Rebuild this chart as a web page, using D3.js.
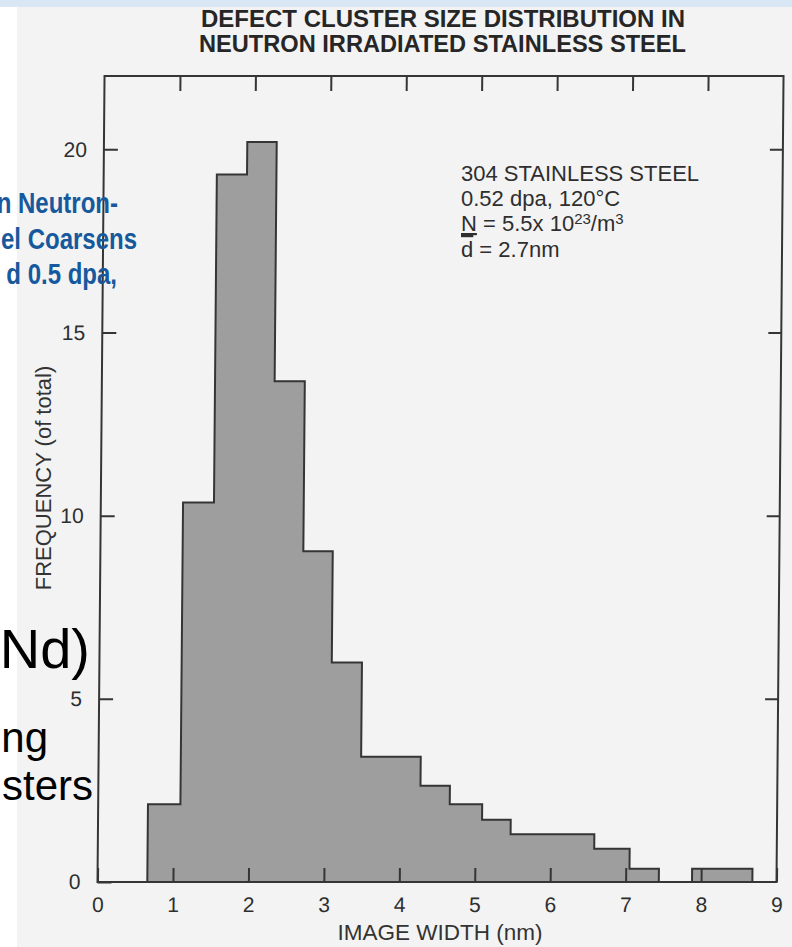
<!DOCTYPE html>
<html>
<head>
<meta charset="utf-8">
<script src="https://cdn.jsdelivr.net/npm/d3@7"></script>
<style>
  html, body { margin: 0; padding: 0; background: #ffffff; }
  svg { display: block; }
</style>
</head>
<body>
<div id="chart"></div>
<script>
// ---- data ----
const binStart  = [0.66, 1.09, 1.50, 1.90, 2.29, 2.69, 3.08, 3.48, 4.27, 4.66, 5.09, 5.47, 6.58, 7.05, 7.88, 7.97];
const binEnd    = [1.09, 1.50, 1.90, 2.29, 2.69, 3.08, 3.48, 4.27, 4.66, 5.09, 5.47, 6.58, 7.05, 7.44, 7.97, 8.68];
const frequency = [2.12, 10.36, 19.31, 20.20, 13.67, 9.03, 5.99, 3.42, 2.63, 2.12, 1.70, 1.30, 0.91, 0.36, 0.36, 0.36];
const xTicks = [0, 1, 2, 3, 4, 5, 6, 7, 8, 9];
const yTicks = [0, 5, 10, 15, 20];
const titleLines = ["DEFECT CLUSTER SIZE DISTRIBUTION IN", "NEUTRON IRRADIATED STAINLESS STEEL"];
const xLabel = "IMAGE WIDTH (nm)";
const yLabel = "FREQUENCY (of total)";
const slideBlueLines = ["n Neutron-", "el Coarsens", "d 0.5 dpa,"];
const slideBlackLines = ["Nd)", "ng", "sters"];

const W = 792, H = 947;
const svg = d3.select("#chart").append("svg").attr("width", W).attr("height", H);

// background (scan on a slide)
svg.append("rect").attr("width", W).attr("height", H).attr("fill", "#ffffff");
svg.append("rect").attr("x", 0).attr("y", 0).attr("width", W).attr("height", 7).attr("fill", "#d9e7f4");
svg.append("rect").attr("x", 17).attr("y", 7).attr("width", W - 17).attr("height", H - 7).attr("fill", "#f3f3f3");

const x = d3.scaleLinear().domain([0, 9]).range([97.5, 776.5]);
const y = d3.scaleLinear().domain([0, 22]).range([882, 76]);

const ink = "#353535";
const sans = "'Liberation Sans', Arial, Helvetica, sans-serif";

// the scan is slightly sheared: verticals lean right toward the top
const g = svg.append("g").attr("transform", "translate(0,882) skewX(-0.5) translate(0,-882)");

const bins = binStart.map((s, i) => ({ x0: s, x1: binEnd[i], f: frequency[i] }));

// step outline of the histogram (fill + outline)
const pts = [];
bins.forEach((d, i) => {
  const prev = bins[i - 1];
  if (!prev || Math.abs(prev.x1 - d.x0) > 1e-6) pts.push([d.x0, 0]);
  pts.push([d.x0, d.f]);
  pts.push([d.x1, d.f]);
  const next = bins[i + 1];
  if (!next || Math.abs(next.x0 - d.x1) > 1e-6) pts.push([d.x1, 0]);
});
const line = d3.line().x(p => x(p[0])).y(p => y(p[1]));
g.append("path").attr("d", line(pts)).attr("fill", "#9e9e9e")
  .attr("stroke", ink).attr("stroke-width", 2).attr("stroke-linejoin", "miter");

// axes
const styleAxis = sel => {
  sel.select(".domain").remove();
  sel.selectAll(".tick line").attr("stroke", ink).attr("stroke-width", 2);
  sel.selectAll(".tick text").attr("fill", "#2e2e2e").attr("font-family", sans).attr("font-size", 21);
};
g.append("g").attr("transform", `translate(${x(0)},0)`)
  .call(d3.axisLeft(y).tickValues(yTicks).tickSize(-14).tickPadding(17).tickSizeOuter(0))
  .call(styleAxis);
g.append("g").attr("transform", `translate(${x(9)},0)`)
  .call(d3.axisRight(y).tickValues(yTicks.filter(v => v > 0)).tickSize(-13).tickFormat("").tickSizeOuter(0))
  .call(styleAxis);
g.append("g").attr("transform", `translate(0,${y(22)})`)
  .call(d3.axisTop(x).tickValues(xTicks.filter(v => v > 0 && v < 9)).tickSize(-15).tickFormat("").tickSizeOuter(0))
  .call(styleAxis);
g.append("g").attr("transform", `translate(0,${y(0)})`)
  .call(d3.axisBottom(x).tickValues(xTicks).tickSize(-14).tickPadding(15).tickSizeOuter(0))
  .call(styleAxis);

// frame
g.append("rect").attr("x", x(0)).attr("y", y(22)).attr("width", x(9) - x(0)).attr("height", y(0) - y(22))
  .attr("fill", "none").attr("stroke", ink).attr("stroke-width", 2);

// titles & labels (condensed bold title)
svg.append("g").attr("font-family", sans).attr("font-weight", "bold").attr("font-size", 23)
  .attr("fill", "#262626")
  .selectAll("text").data(titleLines).enter().append("text")
  .attr("x", (d, i) => [201, 199][i]).attr("y", (d, i) => 27 + i * 25)
  .attr("textLength", (d, i) => [484, 487][i]).attr("lengthAdjust", "spacingAndGlyphs")
  .text(d => d);

svg.append("text").attr("x", 440).attr("y", 940).attr("text-anchor", "middle")
  .attr("font-family", sans).attr("font-size", 22.5).attr("fill", "#333").text(xLabel);

svg.append("text").attr("transform", "translate(43,478) rotate(-90)").attr("text-anchor", "middle")
  .attr("dominant-baseline", "central").attr("font-family", sans).attr("font-size", 22)
  .attr("fill", "#333").text(yLabel);

// annotation block
const ann = svg.append("g").attr("font-family", sans).attr("font-size", 22).attr("fill", "#2e2e2e");
ann.append("text").attr("x", 461).attr("y", 181).text("304 STAINLESS STEEL");
ann.append("text").attr("x", 461).attr("y", 206).text("0.52 dpa, 120°C");
const l3 = ann.append("text").attr("x", 461).attr("y", 231);
l3.append("tspan").attr("text-decoration", "underline").text("N");
l3.append("tspan").text(" = 5.5x 10");
l3.append("tspan").attr("dy", -7).attr("font-size", 15).text("23");
l3.append("tspan").attr("dy", 7).text("/m");
l3.append("tspan").attr("dy", -7).attr("font-size", 15).text("3");
const l4 = ann.append("text").attr("x", 461).attr("y", 257);
l4.append("tspan").attr("text-decoration", "overline").text("d");
l4.append("tspan").text(" = 2.7nm");

// slide text bleeding over the left of the scan (bold, condensed)
svg.append("g").selectAll("text").data(slideBlueLines).enter().append("text")
  .attr("transform", (d, i) => `translate(${[118, 137, 117][i]},${213 + i * 35.5}) scale(0.8,1)`)
  .attr("text-anchor", "end").attr("font-family", sans).attr("font-weight", "bold")
  .attr("font-size", 30).attr("fill", "#16599d").text(d => d);

const blk = svg.append("g").attr("font-family", sans).attr("fill", "#000").attr("text-anchor", "end");
blk.append("text").attr("x", 90).attr("y", 668).attr("font-size", 56).text(slideBlackLines[0]);
blk.append("text").attr("x", 48).attr("y", 752).attr("font-size", 42).text(slideBlackLines[1]);
blk.append("text").attr("x", 93).attr("y", 800).attr("font-size", 42).text(slideBlackLines[2]);
</script>
</body>
</html>
